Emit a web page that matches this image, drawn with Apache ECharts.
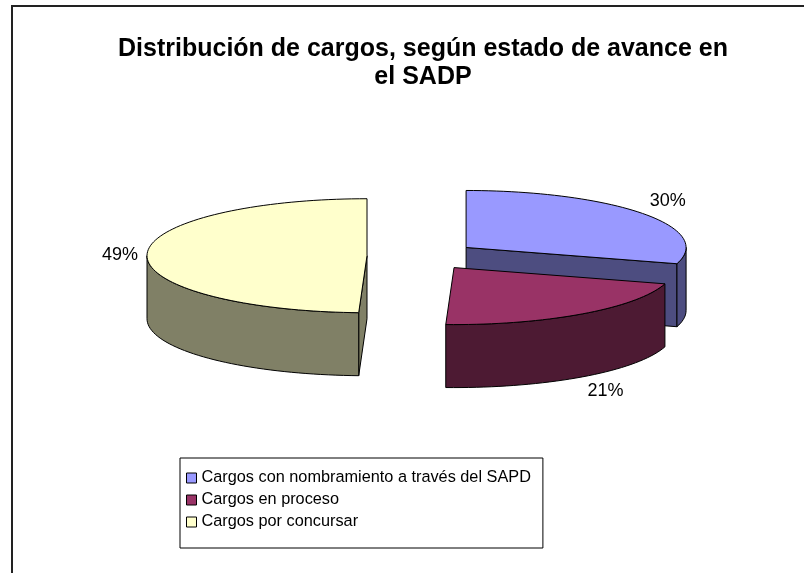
<!DOCTYPE html>
<html>
<head>
<meta charset="utf-8">
<script src="https://cdn.jsdelivr.net/npm/echarts@6/dist/echarts.min.js"></script>
<style>
  html, body { margin: 0; padding: 0; background: #fff; }
  #chart { width: 804px; height: 573px; }
</style>
</head>
<body>
<div id="chart"></div>
<script>
// datos del grafico
var categories = ['Cargos con nombramiento a través del SAPD', 'Cargos en proceso', 'Cargos por concursar'];
var values = [29.6, 21.0, 49.4];
var labels = ['30%', '21%', '49%'];
var topColors = ['#9999FF', '#993366', '#FFFFCC'];
var sideColors = ['#4D4D80', '#4D1A33', '#808066'];

// geometria del pastel 3D (pixeles)
var BX = 422, BY = 256, RX = 220, RY = 57, DEPTH = 63, EXPLODE = 0.25;

var total = values.reduce(function (a, b) { return a + b; }, 0);
var starts = [];
var acc = 0;
values.forEach(function (v) { starts.push(acc / total * 360); acc += v; });

function rad (d) { return d * Math.PI / 180; }

function makeRender (idx) {
  return function (params, api) {
    var a0 = starts[idx];
    var a1 = a0 + api.value(0) / total * 360;
    var mid = rad((a0 + a1) / 2);
    var cx = BX + EXPLODE * RX * Math.sin(mid);
    var cy = BY - EXPLODE * RY * Math.cos(mid);
    function pt (deg, r, h) {
      return api.coord([cx + r * RX * Math.sin(rad(deg)), cy - r * RY * Math.cos(rad(deg)) + h]);
    }
    function arc (from, to, h) {
      var pts = [];
      var n = Math.max(2, Math.ceil(Math.abs(to - from) / 2));
      for (var i = 0; i <= n; i++) pts.push(pt(from + (to - from) * i / n, 1, h));
      return pts;
    }
    var line = { stroke: '#000', lineWidth: 1, lineJoin: 'round' };
    var children = [];
    // caras radiales visibles
    if (Math.sin(rad(a0)) < -0.001) {
      children.push({ type: 'polygon', shape: { points: [pt(0, 0, 0), pt(a0, 1, 0), pt(a0, 1, DEPTH), pt(0, 0, DEPTH)] },
        style: Object.assign({ fill: sideColors[idx] }, line) });
    }
    if (Math.sin(rad(a1)) > 0.001) {
      children.push({ type: 'polygon', shape: { points: [pt(0, 0, 0), pt(a1, 1, 0), pt(a1, 1, DEPTH), pt(0, 0, DEPTH)] },
        style: Object.assign({ fill: sideColors[idx] }, line) });
    }
    // pared exterior (mitad frontal)
    var w0 = Math.max(a0, 90), w1 = Math.min(a1, 270);
    if (w1 > w0) {
      var top = arc(w0, w1, 0);
      var bot = arc(w1, w0, DEPTH);
      children.push({ type: 'polygon', shape: { points: top.concat(bot) },
        style: Object.assign({ fill: sideColors[idx] }, line) });
    }
    // cara superior
    children.push({ type: 'polygon', shape: { points: [pt(0, 0, 0)].concat(arc(a0, a1, 0)) },
      style: Object.assign({ fill: topColors[idx] }, line) });
    // etiqueta
    var s = Math.sin(mid), c = Math.cos(mid);
    var lp = pt((a0 + a1) / 2, 1, c < -0.3 ? DEPTH : 0);
    children.push({ type: 'text', x: lp[0] + 9 * s, y: lp[1] - 6 * c,
      style: { text: labels[idx], fill: '#000', font: '18px "Liberation Sans", Arial, sans-serif',
        textAlign: s > 0.3 ? 'left' : (s < -0.3 ? 'right' : 'center'),
        textVerticalAlign: c > 0.3 ? 'bottom' : (c < -0.3 ? 'top' : 'middle') } });
    return { type: 'group', children: children };
  };
}

var chart = echarts.init(document.getElementById('chart'));
var series = categories.map(function (name, i) {
  return {
    name: name,
    type: 'custom',
    coordinateSystem: 'cartesian2d',
    renderItem: makeRender(i),
    itemStyle: { color: topColors[i] },
    data: [[values[i]]],
    encode: { x: -1, y: -1 },
    silent: true
  };
});

chart.setOption({
  animation: false,
  backgroundColor: '#fff',
  title: {
    text: 'Distribución de cargos, según estado de avance en\nel SADP',
    left: 418,
    top: 30,
    textAlign: 'center',
    textStyle: { fontFamily: '"Liberation Sans", Arial, sans-serif', fontWeight: 'bold', fontSize: 25, lineHeight: 28, color: '#000' }
  },
  grid: { left: 0, right: 0, top: 0, bottom: 0 },
  xAxis: { type: 'value', min: 0, max: 804, show: false },
  yAxis: { type: 'value', min: 0, max: 573, inverse: true, show: false },
  legend: {
    orient: 'vertical',
    left: 180,
    top: 458,
    padding: [9, 12, 15, 6],
    itemGap: 0,
    itemWidth: 10,
    itemHeight: 10,
    icon: 'rect',
    borderColor: '#000',
    borderWidth: 1,
    itemStyle: { borderColor: '#000', borderWidth: 1 },
    textStyle: { fontFamily: '"Liberation Sans", Arial, sans-serif', fontSize: 16.3, color: '#000', lineHeight: 22 },
    data: categories
  },
  graphic: [{
    type: 'rect',
    shape: { x: 12, y: 6, width: 820, height: 600 },
    style: { fill: null, stroke: '#222', lineWidth: 2 },
    silent: true
  }],
  series: series
});
</script>
</body>
</html>
